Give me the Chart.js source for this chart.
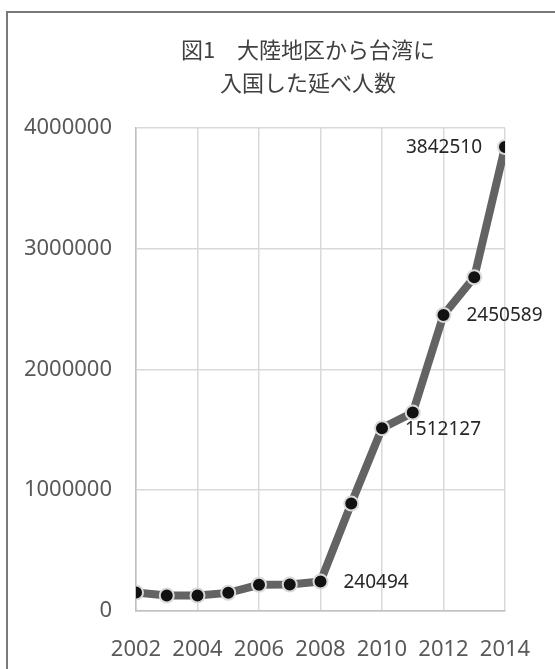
<!DOCTYPE html>
<html>
<head>
<meta charset="utf-8">
<script src="https://cdn.jsdelivr.net/npm/chart.js@4/dist/chart.umd.min.js"></script>
<style>
  html, body { margin: 0; padding: 0; background: #fff; overflow: hidden; }
  #box {
    position: absolute; left: 6px; top: 11px;
    width: 600px; height: 690px;
    border-top: 2px solid #7a7a7a; border-left: 2px solid #7a7a7a;
    background: #fff;
  }
</style>
</head>
<body>
<div id="box"><canvas id="chart" width="600" height="690"></canvas></div>
<script>
const titleLines = ['図1　大陸地区から台湾に', '入国した延べ人数'];
const years = [2002, 2003, 2004, 2005, 2006, 2007, 2008, 2009, 2010, 2011, 2012, 2013, 2014];
const visitors = [150000, 125000, 125000, 147000, 214000, 216000, 240494, 887000, 1512127, 1641000, 2450589, 2763000, 3842510];
const labelIndex = [6, 8, 10, 12];
const labelSide = ['right', 'right', 'right', 'left'];

// title drawn by hand: in the original it sits left of the plot centre
const chartTitle = {
  id: 'chartTitle',
  afterDraw(chart) {
    const ctx = chart.ctx;
    ctx.save();
    ctx.font = '22px "Noto Sans CJK JP", sans-serif';
    ctx.fillStyle = '#404040';
    ctx.textAlign = 'center';
    ctx.textBaseline = 'middle';
    titleLines.forEach((line, i) => ctx.fillText(line, 300, 37 + i * 33));
    ctx.restore();
  }
};

// value labels next to chosen points
const pointLabels = {
  id: 'pointLabels',
  afterDatasetsDraw(chart) {
    const ctx = chart.ctx;
    const meta = chart.getDatasetMeta(0);
    ctx.save();
    ctx.font = '19px "Noto Sans", sans-serif';
    ctx.fillStyle = '#262626';
    ctx.textBaseline = 'middle';
    labelIndex.forEach((idx, k) => {
      const pt = meta.data[idx];
      const right = labelSide[k] === 'right';
      ctx.textAlign = right ? 'left' : 'right';
      ctx.fillText(String(visitors[idx]), pt.x + (right ? 23 : -23), pt.y + 1);
    });
    ctx.restore();
  }
};

new Chart(document.getElementById('chart'), {
  type: 'scatter',
  data: {
    datasets: [{
      data: years.map((y, i) => ({ x: y, y: visitors[i] })),
      showLine: true,
      borderColor: '#636363',
      borderWidth: 8,
      pointBackgroundColor: '#111',
      pointBorderColor: '#d9d9d9',
      pointBorderWidth: 2,
      pointRadius: 7,
      tension: 0
    }]
  },
  options: {
    responsive: false,
    animation: false,
    layout: { padding: { left: 8, right: 103, top: 115, bottom: 14 } },
    plugins: {
      legend: { display: false },
      tooltip: { enabled: false },
      title: { display: false }
    },
    scales: {
      x: {
        type: 'linear',
        min: 2002, max: 2014,
        grid: { color: '#d9d9d9', lineWidth: 1.5, drawTicks: false },
        border: { color: '#bfbfbf', width: 1.5 },
        ticks: {
          stepSize: 2, padding: 26, color: '#595959',
          font: { family: '"Noto Sans", sans-serif', size: 22 },
          callback: v => String(v)
        }
      },
      y: {
        min: 0, max: 4000000,
        afterFit: s => { s.width = 120; },
        grid: { color: '#d9d9d9', lineWidth: 1.5, drawTicks: false },
        border: { color: '#bfbfbf', width: 1.5 },
        ticks: {
          stepSize: 1000000, padding: 24, color: '#595959',
          font: { family: '"Noto Sans", sans-serif', size: 22 },
          callback: v => String(v)
        }
      }
    }
  },
  plugins: [chartTitle, pointLabels]
});
</script>
</body>
</html>
